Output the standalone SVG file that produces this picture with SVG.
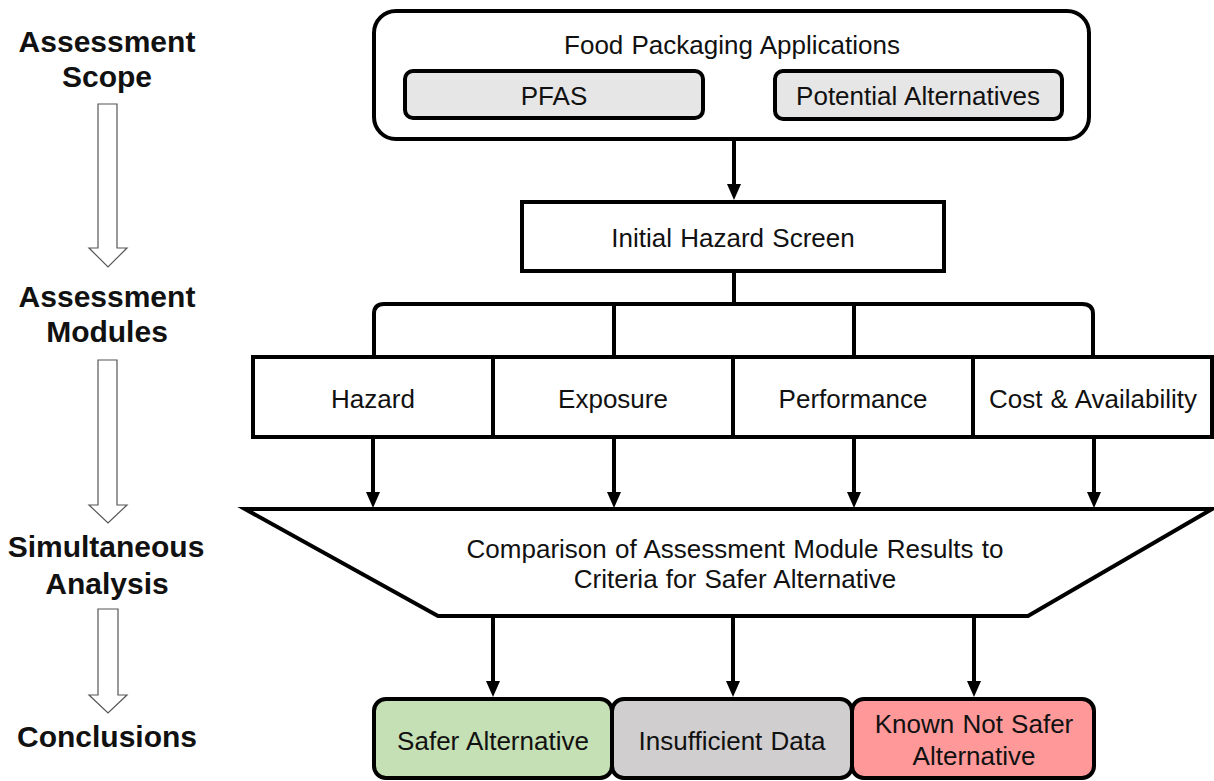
<svg xmlns="http://www.w3.org/2000/svg" width="1214" height="781" viewBox="0 0 1214 781">
<style>
  text { font-family: "Liberation Sans", Arial, sans-serif; fill: #111; }
  .lbl { font-size: 30px; font-weight: bold; text-anchor: middle; }
  .t { font-size: 26px; text-anchor: middle; word-spacing: 1px; }
  .box { fill: #fff; stroke: #000; stroke-width: 4; }
  .conn { fill: none; stroke: #000; stroke-width: 4; }
  .hollow { fill: #fff; stroke: #555; stroke-width: 1.2; }
</style>
<defs>
  <marker id="ah" markerUnits="userSpaceOnUse" markerWidth="16" markerHeight="14" viewBox="0 0 16 14" refX="8" refY="7" orient="auto">
    <path d="M0,0 L16,7 L0,14 z" fill="#000"/>
  </marker>
</defs>

<g id="stage-labels">
  <text class="lbl" x="107" y="52">Assessment</text>
  <text class="lbl" x="107" y="87">Scope</text>
  <path class="hollow" d="M98,104 H117 V248 H127 L108,267 L89,248 H98 Z"/>
  <text class="lbl" x="107" y="307">Assessment</text>
  <text class="lbl" x="107" y="342">Modules</text>
  <path class="hollow" d="M98,360 H117 V505 H127 L108,523 L89,505 H98 Z"/>
  <text class="lbl" x="106" y="557">Simultaneous</text>
  <text class="lbl" x="107" y="594">Analysis</text>
  <path class="hollow" d="M98,609 H118 V695 H127 L108,713 L89,695 H98 Z"/>
  <text class="lbl" x="107" y="747">Conclusions</text>
</g>

<g id="connectors">
  <line class="conn" x1="734" y1="140" x2="734" y2="192" marker-end="url(#ah)"/>
  <line class="conn" x1="734" y1="272" x2="734" y2="304"/>
  <path class="conn" d="M374,357 V314 Q374,304 384,304 H1082 Q1093,304 1093,314 V357"/>
  <line class="conn" x1="614" y1="304" x2="614" y2="357"/>
  <line class="conn" x1="854" y1="304" x2="854" y2="357"/>
  <line class="conn" x1="373" y1="437" x2="373" y2="500" marker-end="url(#ah)"/>
  <line class="conn" x1="614" y1="437" x2="614" y2="500" marker-end="url(#ah)"/>
  <line class="conn" x1="854" y1="437" x2="854" y2="500" marker-end="url(#ah)"/>
  <line class="conn" x1="1094" y1="437" x2="1094" y2="500" marker-end="url(#ah)"/>
  <line class="conn" x1="493" y1="616" x2="493" y2="689" marker-end="url(#ah)"/>
  <line class="conn" x1="733" y1="616" x2="733" y2="689" marker-end="url(#ah)"/>
  <line class="conn" x1="974" y1="616" x2="974" y2="689" marker-end="url(#ah)"/>
</g>

<g id="scope">
  <rect class="box" x="374" y="11" width="715" height="128" rx="22"/>
  <text class="t" x="732" y="54">Food Packaging Applications</text>
</g>
<g id="pfas">
  <rect x="405" y="71" width="298" height="47" rx="8" fill="#e6e6e6" stroke="#000" stroke-width="4"/>
  <text class="t" x="554" y="105">PFAS</text>
</g>
<g id="alternatives">
  <rect x="775" y="71" width="287" height="48" rx="8" fill="#e6e6e6" stroke="#000" stroke-width="4"/>
  <text class="t" x="918" y="105">Potential Alternatives</text>
</g>

<g id="initial-hazard-screen">
  <rect class="box" x="522" y="202" width="422" height="69" stroke-width="5"/>
  <text class="t" x="733" y="247">Initial Hazard Screen</text>
</g>

<g id="hazard">
  <rect class="box" x="253" y="357" width="240" height="80"/>
  <text class="t" x="373" y="408">Hazard</text>
</g>
<g id="exposure">
  <rect class="box" x="493" y="357" width="240" height="80"/>
  <text class="t" x="613" y="408">Exposure</text>
</g>
<g id="performance">
  <rect class="box" x="733" y="357" width="240" height="80"/>
  <text class="t" x="853" y="408">Performance</text>
</g>
<g id="cost">
  <rect class="box" x="973" y="357" width="239" height="80"/>
  <text class="t" x="1093" y="408">Cost &amp; Availability</text>
</g>

<g id="comparison">
  <path class="box" d="M245,509 H1212 L1028,616 H438 Z"/>
  <text class="t" x="735" y="558">Comparison of Assessment Module Results to</text>
  <text class="t" x="735" y="588">Criteria for Safer Alternative</text>
</g>

<g id="safer">
  <rect x="374" y="699" width="238" height="79" rx="12" fill="#c5e0b4" stroke="#000" stroke-width="4"/>
  <text class="t" x="493" y="750">Safer Alternative</text>
</g>
<g id="insufficient">
  <rect x="612" y="699" width="240" height="79" rx="12" fill="#d0cece" stroke="#000" stroke-width="4"/>
  <text class="t" x="732" y="750">Insufficient Data</text>
</g>
<g id="not-safer">
  <rect x="852" y="699" width="242" height="79" rx="12" fill="#ff9999" stroke="#000" stroke-width="4"/>
  <text class="t" x="974" y="733">Known Not Safer</text>
  <text class="t" x="974" y="765">Alternative</text>
</g>
</svg>
